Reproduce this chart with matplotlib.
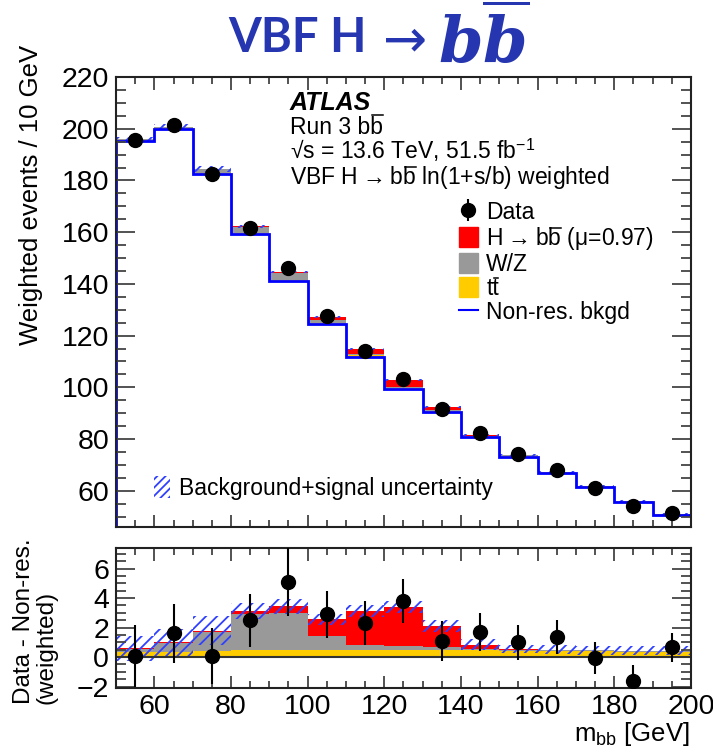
import numpy as np
import matplotlib
matplotlib.use("Agg")
import matplotlib.pyplot as plt
from matplotlib.patches import Patch
from matplotlib.lines import Line2D
from matplotlib.transforms import IdentityTransform
from matplotlib.font_manager import FontProperties

plt.rcParams['font.family'] = ['Liberation Sans', 'DejaVu Sans']
plt.rcParams['mathtext.fontset'] = 'custom'
plt.rcParams['mathtext.rm'] = 'Liberation Sans'
plt.rcParams['mathtext.it'] = 'DejaVu Serif:italic:bold'
plt.rcParams['mathtext.bf'] = 'Liberation Sans:bold'
plt.rcParams['hatch.linewidth'] = 1.3

# bins in m_bb [GeV]
edges = np.arange(50, 201, 10)
centers = (edges[:-1] + edges[1:]) / 2

# non-resonant background (weighted events / 10 GeV)
bkgd = np.array([195.4, 199.8, 182.6, 159.2, 141.2, 124.5, 111.9, 99.3,
                 90.4, 80.7, 73.2, 66.8, 61.3, 55.7, 50.6])
# data minus non-res. background and its error
diff = np.array([0.1, 1.6, 0.05, 2.5, 5.1, 2.9, 2.3, 3.8,
                 1.1, 1.7, 1.0, 1.35, -0.05, -1.6, 0.65])
diff_err = np.array([2.1, 2.0, 1.9, 1.8, 2.3, 1.6, 1.5, 1.5,
                     1.35, 1.3, 1.2, 1.15, 1.1, 1.05, 1.0])
# resonant components
ttbar = np.array([0.35, 0.35, 0.4, 0.45, 0.45, 0.5, 0.5, 0.5,
                  0.45, 0.45, 0.4, 0.4, 0.4, 0.35, 0.35])
wz = np.array([0.2, 0.6, 1.3, 2.45, 2.55, 0.95, 0.35, 0.25,
               0.2, 0.1, 0.1, 0.05, 0.05, 0.05, 0.05])
hbb = np.array([0.05, 0.05, 0.1, 0.25, 0.45, 1.1, 2.25, 2.65,
                1.45, 0.3, 0.05, 0.05, 0.02, 0.02, 0.02])
unc = np.array([0.85, 0.9, 1.0, 0.55, 0.5, 0.4, 0.4, 0.4,
                0.4, 0.35, 0.3, 0.3, 0.3, 0.3, 0.3])

data = bkgd + diff

c_red = '#ff0000'
c_gray = '#999999'
c_yel = '#ffcc00'
c_blue = '#0000ff'
c_hatch = '#3040ff'
c_title = '#2536b0'

W, H = 713, 752
fig = plt.figure(figsize=(W / 100, H / 100), dpi=100)
ax = fig.add_axes([0.1627, 0.2992, 0.8064, 0.5984])
rax = fig.add_axes([0.1627, 0.0851, 0.8064, 0.1862])

fs = 16.5
tfs = 20.5
arrow = r'$\rightarrow$'


def draw_stack(a, base):
    s1 = base + ttbar
    s2 = s1 + wz
    s3 = s2 + hbb
    a.stairs(s1, edges, baseline=base, fill=True, color=c_yel, lw=0)
    a.stairs(s2, edges, baseline=s1, fill=True, color=c_gray, lw=0)
    a.stairs(s3, edges, baseline=s2, fill=True, color=c_red, lw=0)
    a.stairs(s3 + unc, edges, baseline=s3 - unc, fill=True, facecolor='none',
             edgecolor=c_hatch, hatch='///', lw=0)
    return s3


# main panel
draw_stack(ax, bkgd)
ax.stairs(bkgd, edges, color=c_blue, lw=2)
ax.errorbar(centers, data, yerr=diff_err, fmt='o', color='k',
            ms=10, lw=1.5, capsize=0, zorder=5)
ax.set_xlim(50, 200)
ax.set_ylim(46, 220)
ax.set_yticks(np.arange(60, 221, 20))
ax.set_yticks(np.arange(50, 221, 5), minor=True)
ax.set_xticks(np.arange(60, 201, 20))
ax.set_xticks(np.arange(50, 201, 5), minor=True)
ax.tick_params(labelbottom=False)

# ratio panel
draw_stack(rax, np.zeros_like(bkgd))
rax.axhline(0, color='#333333', lw=1.5)
rax.errorbar(centers, diff, yerr=diff_err, fmt='o', color='k', ms=10, lw=1.5,
             capsize=0, zorder=5)
rax.set_xlim(50, 200)
rax.set_ylim(-2.1, 7.4)
rax.set_yticks(np.arange(-2, 7, 2))
rax.set_yticks(np.arange(-2, 7.4, 0.5), minor=True)
rax.set_xticks(np.arange(60, 201, 20))
rax.set_xticks(np.arange(50, 201, 5), minor=True)

for a in (ax, rax):
    a.tick_params(which='both', direction='in', top=True, right=True,
                  labelsize=tfs, width=1.3, color='#444444')
    a.tick_params(axis='y', which='major', length=13.5, pad=5)
    a.tick_params(axis='y', which='minor', length=7)
    a.tick_params(axis='x', which='major', length=9, pad=4)
    a.tick_params(axis='x', which='minor', length=5)
    for sp in a.spines.values():
        sp.set_linewidth(1.5)
        sp.set_color('#222222')

# axis titles
fig.text(31 / W, 1 - 45 / H, 'Weighted events / 10 GeV', fontsize=18.5,
         rotation=90, ha='center', va='top')
fig.text(35 / W, 1 - 704 / H, 'Data - Non-res.\n(weighted)', fontsize=17.5,
         rotation=90, ha='center', va='bottom', multialignment='left',
         linespacing=1.05)
fig.text(690 / W, 1 - 741 / H, r'm$_{\mathrm{bb}}$ [GeV]', fontsize=18.5,
         ha='right', va='baseline')

# ATLAS labels
tx = 290 / W
fig.text(tx, 1 - 110 / H, 'ATLAS', fontsize=18, weight='bold', style='italic', va='baseline')
t_run = fig.text(tx, 1 - 134 / H, 'Run 3 bb', fontsize=fs, va='baseline')
fig.text(tx, 1 - 159 / H, '√s = 13.6 TeV, 51.5 fb$^{-1}$', fontsize=fs, va='baseline')
t_vbf = fig.text(tx, 1 - 184 / H, 'VBF H' + arrow + 'bb ln(1+s/b) weighted',
                 fontsize=fs, va='baseline')

data_h = ax.errorbar([], [], yerr=[], fmt='o', color='k', ms=10, lw=1.5)
handles = [data_h,
           Patch(color=c_red),
           Patch(color=c_gray),
           Patch(color=c_yel),
           Line2D([], [], color=c_blue, lw=1.5)]
labels = ['Data', 'H' + arrow + 'bb (μ=0.97)', 'W/Z', 'tt', 'Non-res. bkgd']
lprop = FontProperties(family=['Liberation Sans', 'DejaVu Sans'], size=fs)
leg = ax.legend(handles, labels, loc='upper left', bbox_to_anchor=(0.58, 0.745),
                frameon=False, prop=lprop, handlelength=0.85, handleheight=1.0,
                handletextpad=0.35, labelspacing=0.04, borderaxespad=0)
ax.add_artist(leg)
ax.legend([Patch(facecolor='none', edgecolor=c_hatch, hatch='////', lw=0)],
          ['Background+signal uncertainty'], loc='lower left',
          bbox_to_anchor=(0.05, 0.04), frameon=False, prop=lprop,
          handlelength=0.7, handleheight=1.1, handletextpad=0.4, borderaxespad=0)

# title
ty = 1 - 38 / H
fig.text(228 / W, ty, 'VBF H', fontsize=34, family='Lato', weight='bold',
         color=c_title, ha='left', va='center')
fig.text(405 / W, ty - 0.004, '→', fontsize=38, family='DejaVu Sans',
         color=c_title, ha='center', va='center')
fig.text(438 / W, ty - 0.005, r'$b\overline{b}$', fontsize=46,
         color=c_title, ha='left', va='center')

# anti-quark bars over the second b / t
fig.canvas.draw()
rend = fig.canvas.get_renderer()


def text_w(s, prop):
    return rend.get_text_width_height_descent(s, prop, ismath='$' in s)[0]


def add_bar(txt, before, incl, rise):
    prop = txt.get_fontproperties()
    ext = txt.get_window_extent(rend)
    x0 = ext.x0 + text_w(before, prop)
    x1 = ext.x0 + text_w(incl, prop)
    d = rend.get_text_width_height_descent('lp', prop, ismath=False)[2]
    y = ext.y0 + d + rise
    fig.add_artist(Line2D([x0 + 1.5, x1 - 0.5], [y, y], transform=IdentityTransform(),
                          color='k', lw=1.1))


add_bar(t_run, 'Run 3 b', 'Run 3 bb', 19)
add_bar(t_vbf, 'VBF H' + arrow + 'b', 'VBF H' + arrow + 'bb', 19)
ltexts = leg.get_texts()
add_bar(ltexts[1], 'H' + arrow + 'b', 'H' + arrow + 'bb', 19)
add_bar(ltexts[3], 't', 'tt', 17)

fig.savefig('out.png', dpi=100)
